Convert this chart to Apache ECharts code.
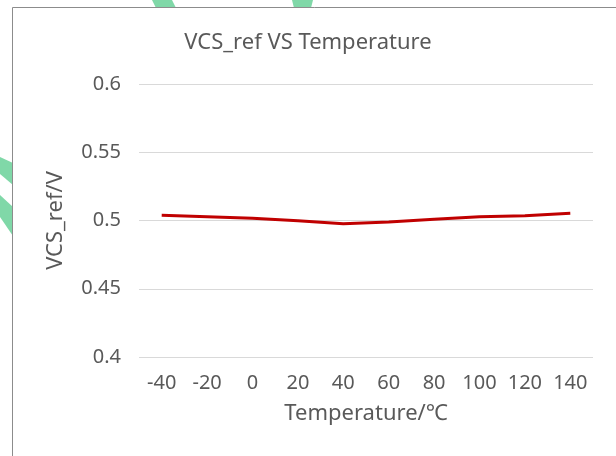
<!DOCTYPE html>
<html>
<head>
<meta charset="utf-8">
<script src="https://cdn.jsdelivr.net/npm/echarts@6/dist/echarts.min.js"></script>
<style>
  html, body { margin: 0; padding: 0; background: #fff; }
  #chart { width: 616px; height: 456px; }
</style>
</head>
<body>
<div id="chart"></div>
<script>
const temperatures = ['-40', '-20', '0', '20', '40', '60', '80', '100', '120', '140']
const vcsRef = [0.5038, 0.5028, 0.5016, 0.4999, 0.4977, 0.4989, 0.5009, 0.5028, 0.5035, 0.5053]

const font = '"Noto Sans", "DejaVu Sans", sans-serif'
const green = '#80d8a8'

const chart = echarts.init(document.getElementById('chart'))
chart.setOption({
  backgroundColor: '#fff',
  animation: false,
  graphic: [
    // green strokes of the page behind the chart box
    { type: 'polygon', z: -10, shape: { points: [[152, 0], [172, 0], [176, 8], [156, 8]] }, style: { fill: green } },
    { type: 'polygon', z: -10, shape: { points: [[292, 0], [313, 0], [311, 8], [294, 8]] }, style: { fill: green } },
    { type: 'polygon', z: -10, shape: { points: [[0, 157], [13, 163], [13, 185], [0, 174]] }, style: { fill: green } },
    { type: 'polygon', z: -10, shape: { points: [[0, 195], [13, 207], [13, 236], [0, 217]] }, style: { fill: green } },
    // chart box
    { type: 'rect', z: -5, shape: { x: 12.5, y: 7.5, width: 700, height: 600 }, style: { fill: '#fff', stroke: '#8c8c8c', lineWidth: 1 } }
  ],
  title: {
    text: 'VCS_ref VS Temperature',
    left: 'center',
    top: 27,
    textStyle: { color: '#595959', fontSize: 22, fontWeight: 'normal', fontFamily: font }
  },
  grid: { left: 139, right: 23, top: 84, bottom: 99 },
  xAxis: {
    type: 'category',
    data: temperatures,
    boundaryGap: true,
    name: 'Temperature/℃',
    nameLocation: 'middle',
    nameGap: 46,
    nameTextStyle: { color: '#595959', fontSize: 22, fontFamily: font },
    axisLine: { show: false },
    axisTick: { show: false },
    axisLabel: { color: '#595959', fontSize: 20, fontFamily: font, margin: 16, interval: 0 }
  },
  yAxis: {
    type: 'value',
    min: 0.4,
    max: 0.6,
    interval: 0.05,
    name: 'VCS_ref/V',
    nameLocation: 'middle',
    nameGap: 72,
    nameTextStyle: { color: '#595959', fontSize: 22, fontFamily: font },
    axisLabel: { color: '#595959', fontSize: 20, fontFamily: font, margin: 18 },
    splitLine: { lineStyle: { color: '#d9d9d9', width: 1 } }
  },
  series: [{
    type: 'line',
    data: vcsRef,
    symbol: 'none',
    lineStyle: { color: '#c00000', width: 3 }
  }]
})
</script>
</body>
</html>
